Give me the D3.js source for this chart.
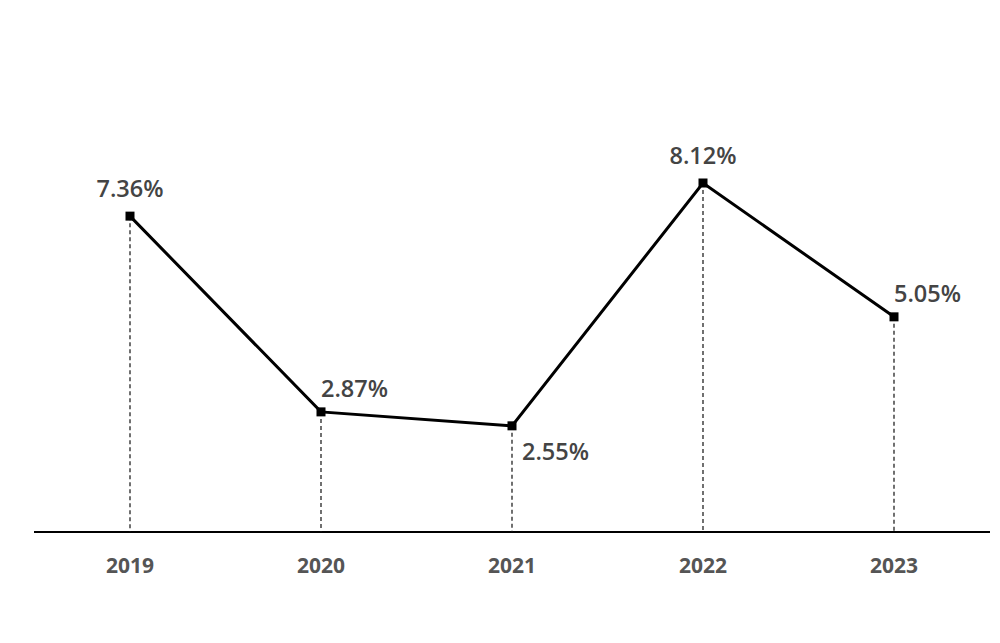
<!DOCTYPE html>
<html><head><meta charset="utf-8">
<script src="https://cdn.jsdelivr.net/npm/d3@7"></script>
<style>body{margin:0;background:#fff}svg{display:block}</style>
</head><body>
<svg id="c" width="1000" height="643"></svg>
<script>
const years = ["2019","2020","2021","2022","2023"];
const values = [7.36, 2.87, 2.55, 8.12, 5.05];
const labels = ["7.36%","2.87%","2.55%","8.12%","5.05%"];
const labelPos = ["above","aboveRight","belowRight","above","aboveRight"];

const svg = d3.select("#c");
const x = d3.scalePoint().domain(years).range([130, 894]);
const y = d3.scaleLinear().domain([0, 8.12]).range([537, 183]);
const baseY = 532;

svg.append("line").attr("x1",34).attr("x2",990).attr("y1",baseY).attr("y2",baseY)
  .attr("stroke","#000").attr("stroke-width",2);

const data = years.map((yr,i)=>({yr, v:values[i], lab:labels[i], pos:labelPos[i]}));

svg.selectAll(".drop").data(data).join("line")
  .attr("x1",d=>x(d.yr)).attr("x2",d=>x(d.yr))
  .attr("y1",d=>y(d.v)).attr("y2",baseY)
  .attr("stroke","#111").attr("stroke-width",1.2).attr("stroke-dasharray","4,3");

svg.append("path").datum(data)
  .attr("d", d3.line().x(d=>x(d.yr)).y(d=>y(d.v)))
  .attr("fill","none").attr("stroke","#000").attr("stroke-width",3);

svg.selectAll(".mk").data(data).join("rect")
  .attr("x",d=>x(d.yr)-4.5).attr("y",d=>y(d.v)-4.5)
  .attr("width",9).attr("height",9).attr("fill","#000");

svg.selectAll(".vl").data(data).join("text")
  .attr("x",d=> d.pos==="above" ? x(d.yr) : x(d.yr)+ (d.pos==="belowRight"?10:0))
  .attr("y",d=> d.pos==="belowRight" ? y(d.v)+34 : (d.pos==="above" ? y(d.v)-19 : y(d.v)-15))
  .attr("text-anchor",d=> d.pos==="above" ? "middle" : "start")
  .attr("font-family","'Open Sans', sans-serif").attr("font-weight",600)
  .attr("font-size",23.5).attr("fill","#444")
  .text(d=>d.lab);

svg.selectAll(".yl").data(years).join("text")
  .attr("x",d=>x(d)).attr("y",573)
  .attr("text-anchor","middle")
  .attr("font-family","'Open Sans', sans-serif").attr("font-weight",700)
  .attr("font-size",21).attr("fill","#555")
  .text(d=>d);
</script>
</body></html>
